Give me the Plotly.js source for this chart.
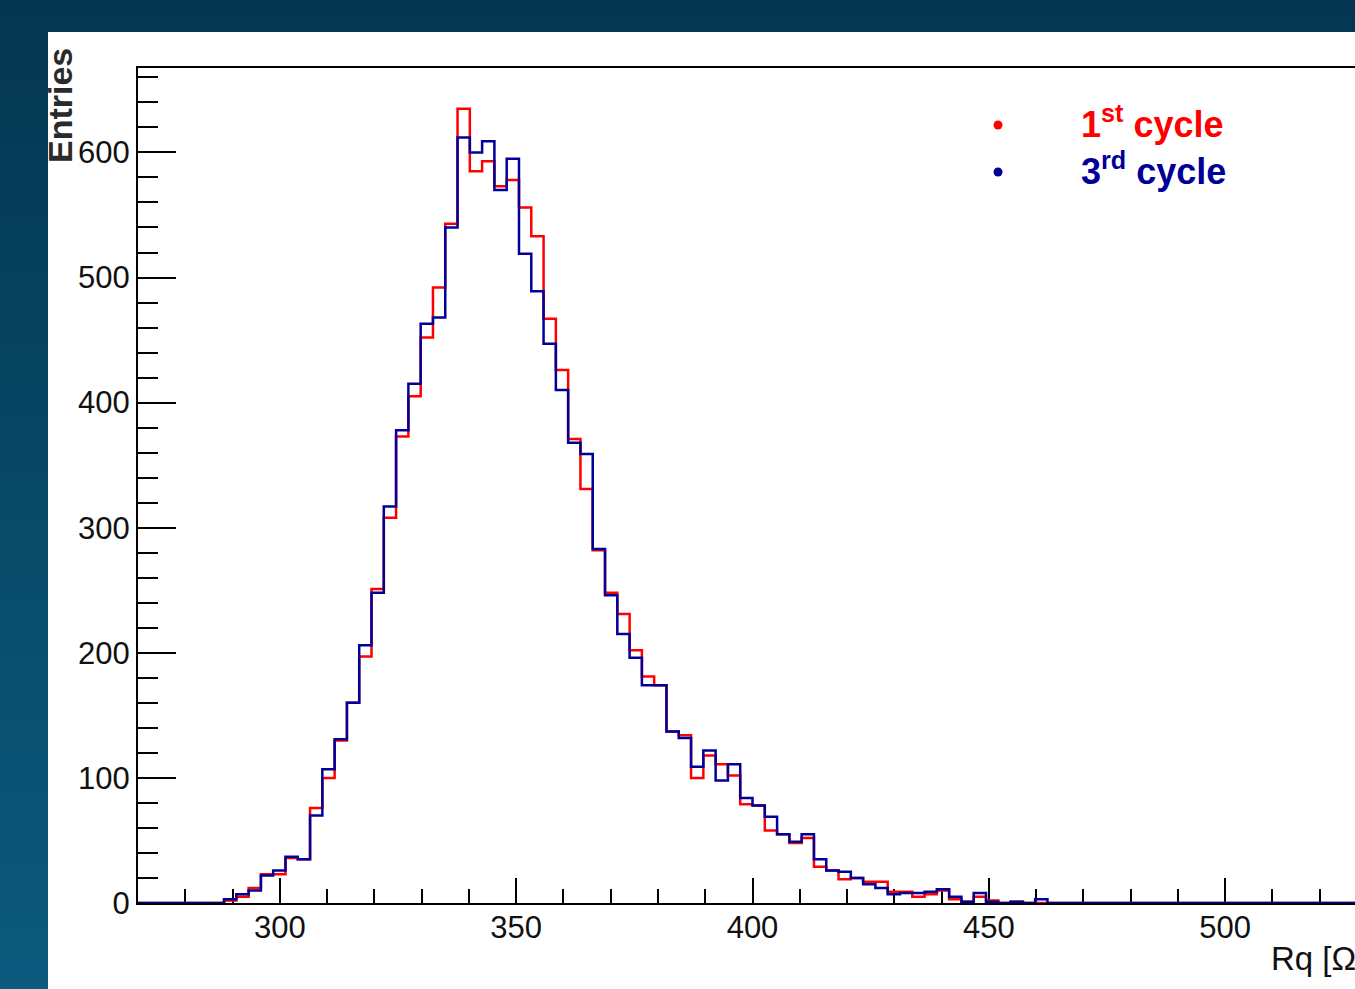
<!DOCTYPE html>
<html>
<head>
<meta charset="utf-8">
<script src="https://cdn.plot.ly/plotly-3.0.1.min.js"></script>
<style>
  html, body { margin:0; padding:0; width:1355px; height:989px; overflow:hidden; }
  body { background: linear-gradient(to bottom, #043650 0%, #074764 45%, #0c5a7e 100%); position:relative; }
  #chart { position:absolute; left:48px; top:32px; width:1360px; height:957px; background:#fff; }
</style>
</head>
<body>
<div id="chart"></div>
<script>
// Histogram binning (ROOT style): 100 bins from 270 to 530 Ohm
const binLow = 270;
const binWidth = 2.6;
const nBins = 100;
const firstFilledBin = 7;   // index of the first listed bin; all others are empty

// Entries per bin, starting at bin index 7 (288.2 Ohm)
const cycle1Counts = [2, 5, 12, 23, 23, 36, 35, 76, 100, 130,
  160, 197, 251, 308, 373, 405, 452, 492, 543, 635,
  585, 593, 573, 578, 556, 533, 467, 426, 371, 331,
  282, 248, 231, 202, 181, 174, 137, 134, 100, 118,
  111, 102, 79, 78, 58, 55, 48, 52, 29, 26,
  19, 20, 17, 17, 9, 9, 5, 7, 10, 3,
  1, 5, 2, 0, 1, 0, 0];
const cycle3Counts = [3, 7, 10, 22, 26, 37, 35, 70, 107, 131,
  160, 206, 248, 317, 378, 415, 463, 468, 540, 612,
  600, 609, 570, 595, 519, 489, 447, 410, 368, 359,
  283, 246, 215, 196, 174, 174, 137, 132, 109, 122,
  98, 111, 84, 78, 69, 55, 49, 55, 35, 26,
  25, 20, 15, 12, 7, 8, 8, 9, 11, 5,
  1, 8, 1, 0, 1, 0, 3];

const seriesNames = ['1<sup>st</sup> cycle', '3<sup>rd</sup> cycle'];
const seriesColors = ['#ff0000', '#000099'];

const xTickVals = [300, 350, 400, 450, 500];
const yTickVals = [0, 100, 200, 300, 400, 500, 600];

function stepTrace(counts, color, name) {
  const full = new Array(nBins).fill(0);
  counts.forEach((c, i) => { full[firstFilledBin + i] = c; });
  const xs = [], ys = [];
  for (let i = 0; i < nBins; i++) { xs.push(binLow + i * binWidth); ys.push(full[i]); }
  xs.push(binLow + nBins * binWidth); ys.push(full[nBins - 1]);
  return { type: 'scatter', mode: 'lines', x: xs, y: ys, name: name,
           line: { shape: 'hv', color: color, width: 2.5 }, hoverinfo: 'x+y', showlegend: false };
}

const traces = [
  stepTrace(cycle1Counts, seriesColors[0], '1st cycle'),
  stepTrace(cycle3Counts, seriesColors[1], '3rd cycle')
];

const font = 'Liberation Sans, Arial, Helvetica, sans-serif';
const plotL = 90, plotW = 1229, plotT = 36, plotH = 835;
const W = 1360, H = 957;

const layout = {
  width: W, height: H,
  margin: { l: plotL, r: W - plotL - plotW, t: plotT, b: H - plotT - plotH, pad: 0 },
  paper_bgcolor: '#ffffff', plot_bgcolor: '#ffffff',
  font: { family: font, color: '#000', size: 31 },
  xaxis: {
    range: [binLow, binLow + nBins * binWidth],
    tickvals: xTickVals, ticktext: xTickVals.map(String),
    ticks: 'inside', ticklen: 25, tickwidth: 2, tickcolor: '#000',
    minor: { dtick: 10, tick0: 270, ticks: 'inside', ticklen: 14, tickwidth: 2, tickcolor: '#000', showgrid: false },
    showline: true, linecolor: '#000', linewidth: 2, mirror: true,
    showgrid: false, zeroline: false, layer: 'below traces',
    tickfont: { family: font, size: 31, color: '#111' },
    ticklabelstandoff: -4
  },
  yaxis: {
    range: [0, 667.5],
    tickvals: yTickVals, ticktext: yTickVals.map(String),
    ticks: 'inside', ticklen: 38, tickwidth: 2, tickcolor: '#000',
    minor: { dtick: 20, tick0: 0, ticks: 'inside', ticklen: 20, tickwidth: 2, tickcolor: '#000', showgrid: false },
    showline: true, linecolor: '#000', linewidth: 2, mirror: true,
    showgrid: false, zeroline: false, layer: 'below traces',
    tickfont: { family: font, size: 31, color: '#111' },
    ticklabelstandoff: 0
  },
  shapes: [
    { type: 'circle', xref: 'paper', yref: 'paper', xsizemode: 'pixel', ysizemode: 'pixel',
      xanchor: (998 - 138) / plotW, yanchor: (903 - 125) / plotH, x0: -4.5, x1: 4.5, y0: -4.5, y1: 4.5,
      fillcolor: seriesColors[0], line: { width: 0 } },
    { type: 'circle', xref: 'paper', yref: 'paper', xsizemode: 'pixel', ysizemode: 'pixel',
      xanchor: (998 - 138) / plotW, yanchor: (903 - 172) / plotH, x0: -4.5, x1: 4.5, y0: -4.5, y1: 4.5,
      fillcolor: seriesColors[1], line: { width: 0 } }
  ],
  annotations: [
    { xref: 'paper', yref: 'paper', x: (1079 - 138) / plotW, y: (903 - 122) / plotH,
      xanchor: 'left', yanchor: 'middle', showarrow: false, text: seriesNames[0],
      font: { family: font, size: 36, color: seriesColors[0], weight: 'bold' } },
    { xref: 'paper', yref: 'paper', x: (1079 - 138) / plotW, y: (903 - 169) / plotH,
      xanchor: 'left', yanchor: 'middle', showarrow: false, text: seriesNames[1],
      font: { family: font, size: 36, color: seriesColors[1], weight: 'bold' } },
    { xref: 'paper', yref: 'paper', x: (60 - 138) / plotW, y: (903 - 106) / plotH,
      xanchor: 'center', yanchor: 'middle', showarrow: false, textangle: -90, text: 'Entries',
      font: { family: font, size: 34, color: '#2a2a2a', weight: 'bold' } },
    { xref: 'paper', yref: 'paper', x: 1, y: (903 - 958) / plotH,
      xanchor: 'right', yanchor: 'middle', showarrow: false, text: 'Rq [Ω]',
      font: { family: font, size: 33, color: '#111' } }
  ]
};

Plotly.newPlot('chart', traces, layout, { displayModeBar: false, staticPlot: false });
</script>
</body>
</html>
